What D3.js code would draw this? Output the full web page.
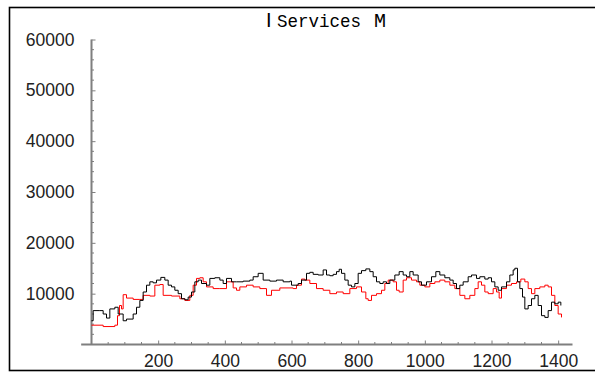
<!DOCTYPE html>
<html>
<head>
<meta charset="utf-8">
<script src="https://cdn.jsdelivr.net/npm/d3@7"></script>
<style>
  body { margin: 0; background: #fff; }
  svg { display: block; }
</style>
</head>
<body>
<svg id="chart" width="595" height="372"></svg>
<script>
// series: [t, value]
const blackSeries = [
  [0,4670],[5,6670],[25,6670],[35,6000],[45,5200],[55,7000],[70,7330],[80,6000],[95,4670],
  [105,5000],[125,6000],[135,7330],[145,8670],[155,10330],[165,11670],[175,12330],[185,12130],
  [195,12670],[208,13200],[220,12670],[230,11670],[240,11330],[250,10670],[260,10000],[270,9000],
  [280,8800],[290,9330],[300,10330],[310,12330],[320,12670],[330,12000],[345,11670],[355,13000],
  [370,13130],[385,12670],[395,12000],[405,13000],[420,12330],[435,12330],[455,12470],[475,12670],
  [485,13330],[500,14000],[515,12670],[535,12470],[555,12670],[575,12330],[595,12470],[600,11670],
  [620,12000],[630,12670],[645,14000],[655,14200],[665,13800],[680,13670],[695,14670],[705,13670],
  [715,13530],[725,13800],[735,14330],[743,14800],[750,14000],[760,12670],[770,11670],[780,11330],
  [790,12000],[800,14000],[810,14530],[823,14870],[835,14330],[845,13330],[855,12330],[865,12000],
  [875,12330],[885,12000],[895,12670],[910,13670],[923,14330],[935,13670],[945,13330],[955,14330],
  [965,13670],[980,12330],[990,11670],[1005,12330],[1020,13330],[1033,14330],[1045,13670],
  [1060,13130],[1075,12670],[1085,12000],[1095,11000],[1105,11670],[1115,12330],[1130,13330],
  [1140,13670],[1155,13000],[1165,13330],[1180,12870],[1190,13130],[1200,12330],[1210,11330],
  [1220,10670],[1230,11330],[1245,12330],[1255,13670],[1265,14670],[1270,15000],[1278,12330],
  [1285,11000],[1293,9330],[1300,7000],[1310,7670],[1320,9000],[1330,9670],[1340,7670],
  [1350,5670],[1360,5330],[1370,6670],[1380,8330],[1390,8000],[1400,8330],[1408,7670]
];
const redSeries = [
  [0,3800],[35,3530],[70,3800],[78,5670],[84,7670],[90,7000],[95,9800],[105,9130],[125,8870],
  [145,8870],[155,9670],[175,9530],[190,11670],[205,11800],[215,9670],[240,9530],[265,9000],
  [280,8670],[295,9670],[305,11670],[315,13000],[325,13130],[335,12330],[345,11330],[365,11000],
  [385,11000],[405,12330],[425,11130],[435,10670],[445,11330],[465,11670],[485,11330],[505,11000],
  [525,9670],[540,10670],[565,11130],[605,11000],[615,11670],[630,12870],[640,12670],[655,12000],
  [675,11000],[695,10670],[715,10000],[735,10330],[755,10000],[775,11000],[795,11330],[810,10330],
  [823,9000],[830,8670],[840,9670],[855,10000],[870,10670],[880,12000],[890,12670],[905,12330],
  [915,10670],[923,10330],[935,12670],[945,13130],[960,12670],[975,12330],[985,11670],[1000,11330],
  [1015,12000],[1030,12330],[1045,12670],[1060,12330],[1075,11670],[1090,11000],[1105,9670],
  [1120,9000],[1135,9670],[1150,11000],[1160,12330],[1170,11670],[1180,10330],[1190,10000],
  [1205,11000],[1215,10330],[1223,9130],[1230,11000],[1245,11670],[1260,12000],[1275,12330],
  [1288,12870],[1300,12330],[1310,11000],[1320,10000],[1330,11000],[1345,11330],[1360,11670],
  [1370,11330],[1380,9670],[1390,7670],[1400,6000],[1410,5330]
];
const xTicks = [200, 400, 600, 800, 1000, 1200, 1400];
const yTicks = [10000, 20000, 30000, 40000, 50000, 60000];

const svg = d3.select("#chart");

// frame round the whole graphic
svg.append("rect")
  .attr("x", 9.5).attr("y", 7.5)
  .attr("width", 590).attr("height", 363)
  .attr("fill", "none").attr("stroke", "#000").attr("stroke-width", 1.6);

const x = d3.scaleLinear().domain([0, 1440]).range([91.5, 571.5]);
const y = d3.scaleLinear().domain([0, 60000]).range([344.5, 39.5]);

const axisColor = "#7f7f7f";
const labelFont = "'Liberation Sans', Arial, sans-serif";

// minor ticks
const xMinor = d3.range(50, 1441, 50).filter(v => v % 200 !== 0);
const yMinor = d3.range(2000, 60001, 2000).filter(v => v % 10000 !== 0);

const xAxis = svg.append("g").attr("transform", `translate(0,${y(0)})`)
  .call(d3.axisBottom(x).tickValues(xTicks).tickFormat(d3.format("d"))
    .tickSizeInner(-4).tickSizeOuter(0).tickPadding(10));
xAxis.select(".domain").remove();
xAxis.append("line")
  .attr("x1", x(-31)).attr("x2", x(1443))
  .attr("stroke", axisColor).attr("stroke-width", 2);
xAxis.selectAll(".minor").data(xMinor).join("line")
  .attr("class", "minor")
  .attr("x1", d => x(d)).attr("x2", d => x(d))
  .attr("y1", 0).attr("y2", -2.5)
  .attr("stroke", axisColor);

const yAxis = svg.append("g").attr("transform", `translate(${x(0)},0)`)
  .call(d3.axisLeft(y).tickValues(yTicks).tickFormat(d3.format("d"))
    .tickSizeInner(-4).tickSizeOuter(0).tickPadding(17));
yAxis.select(".domain").remove();
yAxis.append("line")
  .attr("y1", y(60000)).attr("y2", y(0))
  .attr("stroke", axisColor).attr("stroke-width", 2);
yAxis.selectAll(".minor").data(yMinor).join("line")
  .attr("class", "minor")
  .attr("y1", d => y(d)).attr("y2", d => y(d))
  .attr("x1", 0).attr("x2", 2.5)
  .attr("stroke", axisColor);

svg.selectAll(".tick line").attr("stroke", axisColor);
svg.selectAll(".tick text")
  .attr("fill", "#222")
  .style("font-family", labelFont)
  .style("font-size", "17.5px");

const line = d3.line()
  .x(d => x(d[0]))
  .y(d => y(d[1]))
  .curve(d3.curveStepAfter);

svg.append("path").datum(redSeries)
  .attr("d", line)
  .attr("fill", "none").attr("stroke", "#ff0000").attr("stroke-width", 1);

svg.append("path").datum(blackSeries)
  .attr("d", line)
  .attr("fill", "none").attr("stroke", "#000").attr("stroke-width", 1);

// title
const title = svg.append("text").attr("y", 27).attr("fill", "#000");
title.append("tspan").attr("x", 266)
  .style("font-family", labelFont).style("font-size", "20px").text("I");
title.append("tspan").attr("x", 277)
  .style("font-family", "'Liberation Mono', 'Courier New', monospace").style("font-size", "17.5px")
  .text("Services");
title.append("tspan").attr("x", 374)
  .style("font-family", "'Liberation Mono', monospace").style("font-size", "20px").text("M");
</script>
</body>
</html>
